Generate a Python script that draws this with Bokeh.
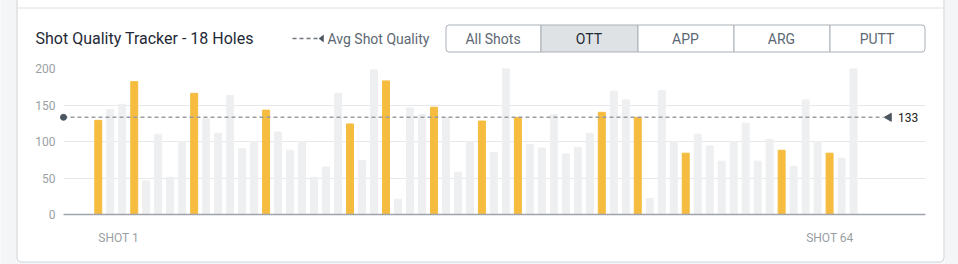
from math import pi

from bokeh.plotting import figure
from bokeh.models import ColumnDataSource, Range1d, FixedTicker
from bokeh.core.properties import value
from bokeh.embed import file_html
from bokeh.resources import INLINE

# Shot quality score for every shot of the round (shot 1 .. shot 64)
shot_quality = [129, 144, 151, 182, 46, 110, 51, 100, 166, 131,
                111, 163, 90, 100, 143, 113, 88, 100, 51, 65,
                166, 124, 74, 198, 183, 21, 146, 137, 147, 133,
                58, 100, 128, 85, 200, 133, 96, 91, 137, 83,
                92, 111, 140, 169, 157, 133, 22, 170, 100, 84,
                110, 94, 73, 100, 125, 73, 103, 88, 66, 157,
                100, 84, 77, 200]

# Shot numbers that were off-the-tee (OTT) shots
ott_shots = [1, 4, 9, 15, 22, 25, 29, 33, 36, 43, 46, 50, 58, 62]

filter_tabs = ["All Shots", "OTT", "APP", "ARG", "PUTT"]
active_tab = "OTT"
y_ticks = [0, 50, 100, 150, 200]

# ---- canvas layout (pixels) ----
W, H = 958, 264
FL, FR, FT, FB = 63, 33, 68, 50
X_START, X_END = -2.9, 69.0
Y_START, Y_END = 0, 200

PX_X = (W - FL - FR) / (X_END - X_START)
PX_Y = (H - FB - FT) / (Y_END - Y_START)


def dx(px):
    """canvas x pixel -> x data coordinate"""
    return X_START + (px - FL) / PX_X


def dy(py):
    """canvas y pixel (from top) -> y data coordinate"""
    return Y_START + (H - FB - py) / PX_Y


ORANGE = "#f5bc3f"
GREY_BAR = "#eeeff0"
TEXT_DARK = "#1f2a36"
TEXT_MUTED = "#5d6873"
TICK_GREY = "#9a9fa4"
MARKER = "#4b5661"
FONT = value("Roboto")

n = len(shot_quality)
shot_idx = list(range(n))
is_ott = [(i + 1) in ott_shots for i in shot_idx]
colors = [ORANGE if o else GREY_BAR for o in is_ott]

ott_values = [v for v, o in zip(shot_quality, is_ott) if o]
avg_quality = sum(ott_values) / len(ott_values)

source = ColumnDataSource(dict(x=shot_idx, top=shot_quality, color=colors))

p = figure(width=W, height=H, x_range=Range1d(X_START, X_END), y_range=Range1d(Y_START, Y_END),
           output_backend="svg", toolbar_location=None, title=None,
           min_border_left=FL, min_border_right=FR, min_border_top=FT, min_border_bottom=FB,
           background_fill_color="white", border_fill_color="white",
           outline_line_color=None)

# ---- axes & grid ----
p.xaxis.ticker = FixedTicker(ticks=[])
p.xaxis.major_label_text_font_size = "0px"
p.xaxis.axis_line_color = "#9ea4aa"
p.xaxis.axis_line_width = 1.5
p.xaxis.major_tick_out = 0
p.xaxis.minor_tick_out = 0
p.xgrid.visible = False

p.yaxis.ticker = FixedTicker(ticks=y_ticks)
p.yaxis.axis_line_color = None
p.yaxis.major_tick_out = 0
p.yaxis.major_tick_in = 0
p.yaxis.minor_tick_out = 0
p.yaxis.minor_tick_in = 0
p.yaxis.major_label_standoff = 8
p.yaxis.major_label_text_font = "Roboto"
p.yaxis.major_label_text_font_size = "12px"
p.yaxis.major_label_text_color = TICK_GREY
p.ygrid.ticker = FixedTicker(ticks=y_ticks)
p.ygrid.grid_line_color = "#e6e8ea"
p.ygrid.grid_line_width = 1

# ---- bars ----
p.vbar(x="x", top="top", width=0.58, color="color", source=source)

# ---- average OTT shot quality reference line ----
p.segment(x0=[X_START], x1=[65.5], y0=[avg_quality], y1=[avg_quality],
          line_dash="4 3", line_color="#9a9ea3", line_width=1.5)
p.scatter(x=[X_START], y=[avg_quality], size=6, color=MARKER, level="overlay")
p.scatter(x=[65.95], y=[avg_quality], marker="triangle", angle=pi / 2, size=8, color=MARKER)
p.text(x=[66.7], y=[avg_quality], text=[f"{avg_quality:.0f}"], text_font=FONT,
       text_font_size="12px", text_color="#222222", text_baseline="middle",
       text_align="left", level="overlay")

# ---- page / card decoration (drawn outside the plot frame) ----
page_bg = "#f4f5f6"
p.quad(left=[dx(0), dx(944), dx(0)], right=[dx(16), dx(970), dx(970)],
       top=[dy(-10), dy(-10), dy(262)], bottom=[dy(280), dy(280), dy(280)],
       fill_color=page_bg, line_alpha=0, level="overlay")
p.quad(left=[dx(16.5)], right=[dx(943.5)], top=[dy(-10)], bottom=[dy(261.5)],
       fill_alpha=0, line_color="#cdd2d6", line_width=1, border_radius=4, level="overlay")
p.segment(x0=[dx(17)], x1=[dx(943)], y0=[dy(7.5)], y1=[dy(7.5)],
          line_color="#dde0e3", line_width=1, level="overlay")

# ---- header: title ----
p.text(x=[dx(35)], y=[dy(38)], text=["Shot Quality Tracker - 18 Holes"], text_font=FONT,
       text_font_size="16px", text_color=TEXT_DARK, text_baseline="middle",
       text_align="left", level="overlay")

# ---- header: legend for the average line ----
p.segment(x0=[dx(292)], x1=[dx(317)], y0=[dy(38)], y1=[dy(38)], line_dash="4 3",
          line_color="#6f767d", line_width=1.5, level="overlay")
p.patch(x=[dx(323), dx(323), dx(318.5)], y=[dy(34.5), dy(41.5), dy(38)],
        fill_color=MARKER, line_color=MARKER, line_width=0.5, level="overlay")
p.text(x=[dx(327)], y=[dy(38)], text=["Avg Shot Quality"], text_font=FONT,
       text_font_size="14px", text_color=TEXT_MUTED, text_baseline="middle",
       text_align="left", level="overlay")

# ---- header: filter tabs ----
tab_edges = [445, 540, 637, 733, 829, 924]
last = len(filter_tabs) - 1
for k, name in enumerate(filter_tabs):
    l, r = tab_edges[k], tab_edges[k + 1]
    radius = (3 if k == 0 else 0, 3 if k == last else 0,
              3 if k == last else 0, 3 if k == 0 else 0)
    active = name == active_tab
    p.quad(left=[dx(l + 0.5)], right=[dx(r + 0.5)], top=[dy(24.5)], bottom=[dy(51.5)],
           fill_color="#dfe2e5" if active else "white", line_color="#a9b0b7",
           line_width=1, border_radius=radius, level="overlay")
    p.text(x=[dx((l + r) / 2)], y=[dy(38)], text=[name], text_font=FONT,
           text_font_size="14px", text_color="#1f2a36" if active else TEXT_MUTED,
           text_baseline="middle", text_align="center", level="overlay")

# ---- first / last shot markers under the axis ----
p.text(x=[shot_idx[0], shot_idx[-1]], y=[dy(237), dy(237)], text=["SHOT 1", f"SHOT {n}"],
       text_font=FONT, text_font_size="12px", text_color=TICK_GREY,
       text_baseline="middle", text_align=["left", "right"], level="overlay")

open("out.html", "w").write(file_html(p, INLINE))
